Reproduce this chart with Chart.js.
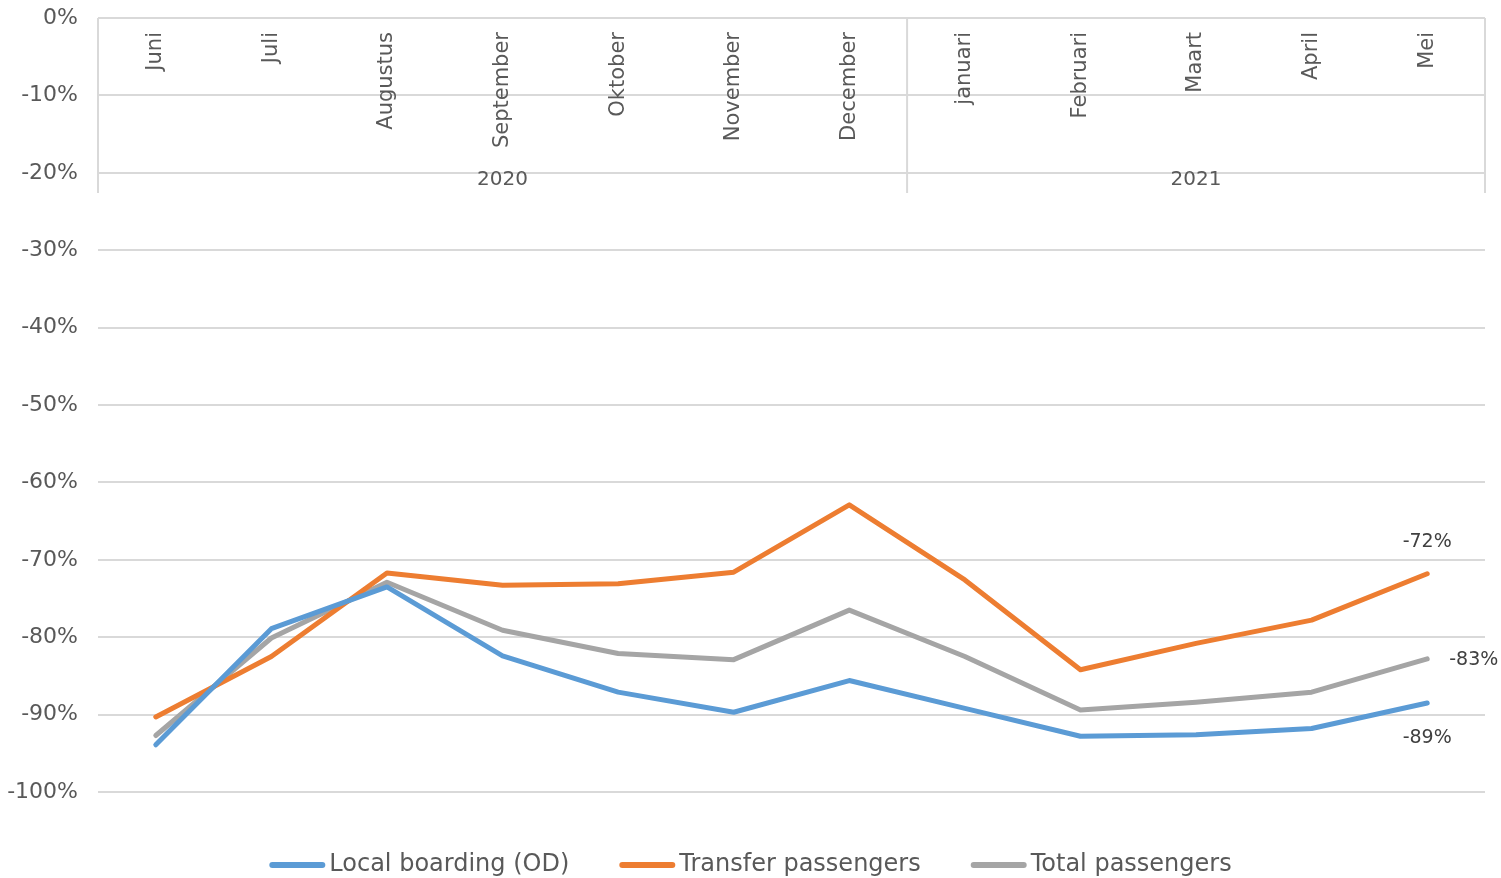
<!DOCTYPE html>
<html>
<head>
<meta charset="utf-8">
<script src="https://cdn.jsdelivr.net/npm/chart.js@4"></script>
<style>
  html, body { margin: 0; padding: 0; background: #fff; }
  #wrap { width: 1501px; height: 878px; }
</style>
</head>
<body>
<div id="wrap"><canvas id="myChart"></canvas></div>
<script>
const months = ["Juni", "Juli", "Augustus", "September", "Oktober", "November", "December",
    "januari", "Februari", "Maart", "April", "Mei"];
const years = ["2020", "2021"];
const yearSpan = [7, 5]; // months per year group

const localBoarding = [-93.9, -78.9, -73.5, -82.4, -87.1, -89.7, -85.6, -89.2, -92.8, -92.6, -91.8, -88.5];
const transferPax = [-90.3, -82.5, -71.7, -73.3, -73.1, -71.6, -62.9, -72.6, -84.2, -80.8, -77.8, -71.8];
const totalPax = [-92.7, -80.1, -72.9, -79.1, -82.1, -82.9, -76.5, -82.5, -89.4, -88.4, -87.1, -82.8];

const endLabels = ["-89%", "-72%", "-83%"];

const textColor = '#595959';
const gridColor = '#d9d9d9';

// month labels, year labels and separators of the category axis (drawn inside the plot)
const categoryAxis = {
    id: 'categoryAxis',
    beforeDatasetsDraw(chart) {
        const ctx = chart.ctx;
        const x = chart.scales.x;
        const y = chart.scales.y;
        const top = y.getPixelForValue(0);
        ctx.save();
        ctx.fillStyle = textColor;
        ctx.font = '21px "DejaVu Sans"';
        months.forEach((m, i) => {
            ctx.save();
            ctx.translate(x.getPixelForValue(i), top + 14);
            ctx.rotate(-Math.PI / 2);
            ctx.textAlign = 'right';
            ctx.textBaseline = 'middle';
            ctx.fillText(m, 0, 0);
            ctx.restore();
        });

        // separators
        let bounds = [x.left];
        let idx = 0;
        yearSpan.forEach(n => {
            idx += n;
            if (idx < months.length) {
                bounds.push((x.getPixelForValue(idx - 1) + x.getPixelForValue(idx)) / 2);
            } else {
                bounds.push(x.right);
            }
        });
        ctx.strokeStyle = gridColor;
        ctx.lineWidth = 2;
        bounds.forEach(b => {
            ctx.beginPath();
            ctx.moveTo(b, top);
            ctx.lineTo(b, top + 175);
            ctx.stroke();
        });

        ctx.font = '20px "DejaVu Sans"';
        ctx.textAlign = 'center';
        ctx.textBaseline = 'middle';
        years.forEach((yr, i) => {
            ctx.fillText(yr, (bounds[i] + bounds[i + 1]) / 2, top + 162);
        });
        ctx.restore();
    }
};

// value labels at the last month
const endValueLabels = {
    id: 'endValueLabels',
    afterDatasetsDraw(chart) {
        const ctx = chart.ctx;
        ctx.save();
        ctx.fillStyle = '#404040';
        ctx.font = '19px "DejaVu Sans"';
        ctx.textBaseline = 'middle';
        const last = months.length - 1;
        const offsets = [[0, 35, 'center'], [0, -32, 'center'], [22, 1, 'left']];
        chart.data.datasets.forEach((ds, i) => {
            const pt = chart.getDatasetMeta(i).data[last];
            ctx.textAlign = offsets[i][2];
            ctx.fillText(endLabels[i], pt.x + offsets[i][0], pt.y + offsets[i][1]);
        });
        ctx.restore();
    }
};

// legend at the bottom: short line then the label, centred
const bottomLegend = {
    id: 'bottomLegend',
    afterDraw(chart) {
        const ctx = chart.ctx;
        const sets = chart.data.datasets;
        const lineLen = 56, gapText = 4, gapItem = 50;
        const yMid = chart.height - 13;
        ctx.save();
        ctx.font = '24px "DejaVu Sans"';
        const widths = sets.map(ds => lineLen + gapText + ctx.measureText(ds.label).width);
        const total = widths.reduce((a, b) => a + b, 0) + gapItem * (sets.length - 1);
        let xPos = (chart.width - total) / 2;
        sets.forEach((ds, i) => {
            ctx.strokeStyle = ds.borderColor;
            ctx.lineWidth = 6;
            ctx.lineCap = 'round';
            ctx.beginPath();
            ctx.moveTo(xPos + 3, yMid);
            ctx.lineTo(xPos + lineLen - 3, yMid);
            ctx.stroke();
            ctx.fillStyle = textColor;
            ctx.textAlign = 'left';
            ctx.textBaseline = 'middle';
            ctx.fillText(ds.label, xPos + lineLen + gapText, yMid);
            xPos += widths[i] + gapItem;
        });
        ctx.restore();
    }
};

function makeSet(label, values, color) {
    return {
        label: label,
        data: values,
        borderColor: color,
        backgroundColor: color,
        borderWidth: 5,
        borderCapStyle: 'round',
        borderJoinStyle: 'round',
        pointRadius: 0,
        tension: 0
    };
}

const data = {
    labels: months,
    datasets: [
        makeSet('Local boarding (OD)', localBoarding, '#5b9bd5'),
        makeSet('Transfer passengers', transferPax, '#ed7d31'),
        makeSet('Total passengers', totalPax, '#a5a5a5')
    ]
};

const config = {
    type: 'line',
    data: data,
    options: {
        responsive: true,
        maintainAspectRatio: false,
        animation: false,
        layout: {
            padding: { left: 0, right: 16, top: 18, bottom: 86 }
        },
        plugins: {
            tooltip: { enabled: false },
            legend: { display: false }
        },
        scales: {
            x: {
                display: false,
                offset: true
            },
            y: {
                min: -100,
                max: 0,
                afterFit(scale) { scale.width = 98; },
                border: { display: false },
                grid: {
                    color: gridColor,
                    lineWidth: 2,
                    drawTicks: true,
                    tickLength: 20,
                    tickColor: 'rgba(0,0,0,0)'
                },
                ticks: {
                    stepSize: 10,
                    padding: 0,
                    color: textColor,
                    font: { family: '"DejaVu Sans"', size: 22 },
                    callback: v => v + '%'
                }
            }
        }
    },
    plugins: [categoryAxis, endValueLabels, bottomLegend]
};

const myChart = new Chart(document.getElementById('myChart'), config);
</script>
</body>
</html>
